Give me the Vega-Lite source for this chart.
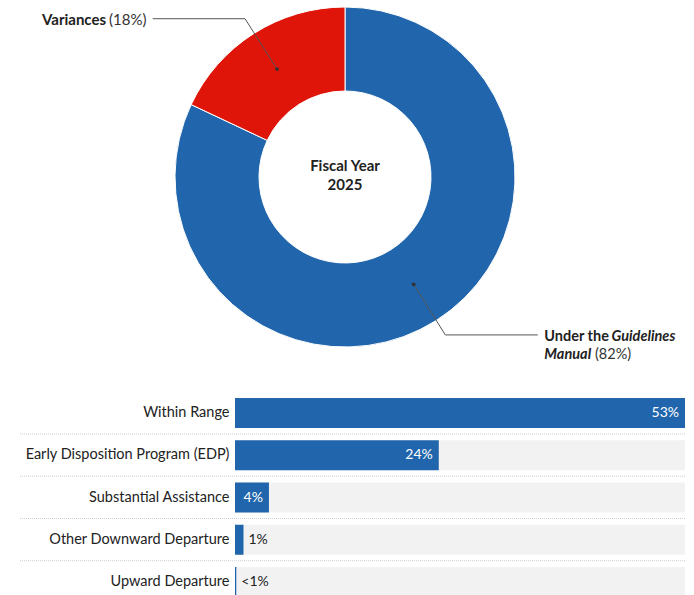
{
  "$schema": "https://vega.github.io/schema/vega-lite/v6.json",
  "background": "white",
  "padding": {"left": 19, "top": 0, "right": 10, "bottom": 0},
  "bounds": "flush",
  "spacing": 44,
  "config": {"view": {"stroke": null}, "font": "Lato"},
  "vconcat": [
    {
      "width": 450,
      "height": 354,
      "layer": [
        {
          "data": {"values": [
            {"segment": "Under the Guidelines Manual", "share": 82, "cx": 0, "cy": 0},
            {"segment": "Variances", "share": 18, "cx": 0, "cy": 0}
          ]},
          "mark": {"type": "arc", "innerRadius": 86, "outerRadius": 170, "stroke": "white", "strokeWidth": 1},
          "encoding": {
            "theta": {"field": "share", "type": "quantitative"},
            "color": {"field": "segment", "type": "nominal", "scale": {"domain": ["Under the Guidelines Manual", "Variances"], "range": ["#2166AC", "#E0150A"]}, "legend": null},
            "x": {"field": "cx", "type": "quantitative", "scale": {"domain": [-0.6471, 2.0], "nice": false, "zero": false}, "axis": null},
            "y": {"field": "cy", "type": "quantitative", "scale": {"domain": [-1.0412, 1.0412], "nice": false, "zero": false}, "axis": null}
          }
        },
        {
          "data": {"values": [
            {"callout": "Variances", "step": 1, "x": -0.4, "y": 0.635},
            {"callout": "Variances", "step": 2, "x": -0.588, "y": 0.931},
            {"callout": "Variances", "step": 3, "x": -1.131, "y": 0.931},
            {"callout": "Under", "step": 1, "x": 0.404, "y": -0.631},
            {"callout": "Under", "step": 2, "x": 0.59, "y": -0.929},
            {"callout": "Under", "step": 3, "x": 1.134, "y": -0.929}
          ]},
          "mark": {"type": "line", "color": "#555555", "strokeWidth": 1},
          "encoding": {
            "x": {"field": "x", "type": "quantitative", "scale": {"domain": [-0.6471, 2.0], "nice": false, "zero": false}, "axis": null},
            "y": {"field": "y", "type": "quantitative", "scale": {"domain": [-1.0412, 1.0412], "nice": false, "zero": false}, "axis": null},
            "detail": {"field": "callout", "type": "nominal"},
            "order": {"field": "step", "type": "quantitative"}
          }
        },
        {
          "data": {"values": [
            {"callout": "Variances", "x": -0.4, "y": 0.635},
            {"callout": "Under", "x": 0.404, "y": -0.631}
          ]},
          "mark": {"type": "point", "filled": true, "size": 14, "color": "#333333", "opacity": 1},
          "encoding": {
            "x": {"field": "x", "type": "quantitative", "scale": {"domain": [-0.6471, 2.0], "nice": false, "zero": false}, "axis": null},
            "y": {"field": "y", "type": "quantitative", "scale": {"domain": [-1.0412, 1.0412], "nice": false, "zero": false}, "axis": null}
          }
        },
        {
          "data": {"values": [{"caption": "Fiscal Year\n2025", "x": 0, "y": 0}]},
          "mark": {"type": "text", "fontWeight": "bold", "fontSize": 15, "lineBreak": "\n", "lineHeight": 19, "align": "center", "baseline": "alphabetic", "dy": -6, "color": "#222222"},
          "encoding": {
            "x": {"field": "x", "type": "quantitative", "scale": {"domain": [-0.6471, 2.0], "nice": false, "zero": false}, "axis": null},
            "y": {"field": "y", "type": "quantitative", "scale": {"domain": [-1.0412, 1.0412], "nice": false, "zero": false}, "axis": null},
            "text": {"field": "caption", "type": "nominal"}
          }
        },
        {
          "data": {"values": [
            {"text": "Variances", "x": -1.7824, "y": 0.8912}
          ]},
          "mark": {"type": "text", "align": "left", "baseline": "alphabetic", "fontSize": 15, "fontWeight": "bold", "color": "#222222"},
          "encoding": {
            "x": {"field": "x", "type": "quantitative", "scale": {"domain": [-0.6471, 2.0], "nice": false, "zero": false}, "axis": null},
            "y": {"field": "y", "type": "quantitative", "scale": {"domain": [-1.0412, 1.0412], "nice": false, "zero": false}, "axis": null},
            "text": {"field": "text", "type": "nominal"}
          }
        },
        {
          "data": {"values": [
            {"text": "(18%)", "x": -1.1676, "y": 0.8912}
          ]},
          "mark": {"type": "text", "align": "right", "baseline": "alphabetic", "fontSize": 15, "color": "#333333"},
          "encoding": {
            "x": {"field": "x", "type": "quantitative", "scale": {"domain": [-0.6471, 2.0], "nice": false, "zero": false}, "axis": null},
            "y": {"field": "y", "type": "quantitative", "scale": {"domain": [-1.0412, 1.0412], "nice": false, "zero": false}, "axis": null},
            "text": {"field": "text", "type": "nominal"}
          }
        },
        {
          "data": {"values": [
            {"text": "Under the", "x": 1.1724, "y": -0.9629}
          ]},
          "mark": {"type": "text", "align": "left", "baseline": "alphabetic", "fontSize": 14.5, "fontWeight": "bold", "color": "#222222"},
          "encoding": {
            "x": {"field": "x", "type": "quantitative", "scale": {"domain": [-0.6471, 2.0], "nice": false, "zero": false}, "axis": null},
            "y": {"field": "y", "type": "quantitative", "scale": {"domain": [-1.0412, 1.0412], "nice": false, "zero": false}, "axis": null},
            "text": {"field": "text", "type": "nominal"}
          }
        },
        {
          "data": {"values": [
            {"text": "Guidelines", "x": 1.5676, "y": -0.9629},
            {"text": "Manual", "x": 1.1724, "y": -1.0688}
          ]},
          "mark": {"type": "text", "align": "left", "baseline": "alphabetic", "fontSize": 14.5, "fontWeight": "bold", "fontStyle": "italic", "color": "#222222"},
          "encoding": {
            "x": {"field": "x", "type": "quantitative", "scale": {"domain": [-0.6471, 2.0], "nice": false, "zero": false}, "axis": null},
            "y": {"field": "y", "type": "quantitative", "scale": {"domain": [-1.0412, 1.0412], "nice": false, "zero": false}, "axis": null},
            "text": {"field": "text", "type": "nominal"}
          }
        },
        {
          "data": {"values": [
            {"text": "(82%)", "x": 1.4706, "y": -1.0688}
          ]},
          "mark": {"type": "text", "align": "left", "baseline": "alphabetic", "fontSize": 14.5, "color": "#333333"},
          "encoding": {
            "x": {"field": "x", "type": "quantitative", "scale": {"domain": [-0.6471, 2.0], "nice": false, "zero": false}, "axis": null},
            "y": {"field": "y", "type": "quantitative", "scale": {"domain": [-1.0412, 1.0412], "nice": false, "zero": false}, "axis": null},
            "text": {"field": "text", "type": "nominal"}
          }
        }
      ]
    },
    {
      "width": 450,
      "height": 199,
      "data": {"values": [
        {"category": "Within Range", "pct": 53, "label": "53%"},
        {"category": "Early Disposition Program (EDP)", "pct": 24, "label": "24%"},
        {"category": "Substantial Assistance", "pct": 4, "label": "4%"},
        {"category": "Other Downward Departure", "pct": 1, "label": "1%"},
        {"category": "Upward Departure", "pct": 0.15, "label": "<1%"}
      ]},
      "layer": [
        {
          "transform": [{"filter": "datum.category !== 'Upward Departure'"}],
          "mark": {"type": "rule", "color": "#cccccc", "strokeWidth": 1, "strokeDash": [1, 1], "yOffset": 6},
          "encoding": {
            "y": {"field": "category", "type": "nominal", "sort": ["Within Range", "Early Disposition Program (EDP)", "Substantial Assistance", "Other Downward Departure", "Upward Departure"], "bandPosition": 1, "scale": {"paddingInner": 0.29, "paddingOuter": 0},
              "axis": {"title": null, "ticks": false, "domain": false, "labelPadding": 6, "labelFontSize": 14.5, "labelColor": "#222222", "labelFont": "Lato", "labelLimit": 300}},
            "x": {"datum": -25.32, "type": "quantitative", "scale": {"domain": [0, 53], "nice": false}, "axis": null},
            "x2": {"datum": 53}
          }
        },
        {
          "mark": {"type": "bar", "color": "#f2f2f2"},
          "encoding": {
            "y": {"field": "category", "type": "nominal", "sort": ["Within Range", "Early Disposition Program (EDP)", "Substantial Assistance", "Other Downward Departure", "Upward Departure"], "scale": {"paddingInner": 0.29, "paddingOuter": 0},
              "axis": {"title": null, "ticks": false, "domain": false, "labelPadding": 6, "labelFontSize": 14.5, "labelColor": "#222222", "labelFont": "Lato", "labelLimit": 300}},
            "x": {"datum": 0, "type": "quantitative", "scale": {"domain": [0, 53], "nice": false}, "axis": null},
            "x2": {"datum": 53}
          }
        },
        {
          "mark": {"type": "bar", "color": "#2166AC"},
          "encoding": {
            "y": {"field": "category", "type": "nominal", "sort": ["Within Range", "Early Disposition Program (EDP)", "Substantial Assistance", "Other Downward Departure", "Upward Departure"],
              "axis": {"title": null, "ticks": false, "domain": false, "labelPadding": 6, "labelFontSize": 14.5, "labelColor": "#222222", "labelFont": "Lato", "labelLimit": 300}},
            "x": {"field": "pct", "type": "quantitative", "scale": {"domain": [0, 53], "nice": false}, "axis": null}
          }
        },
        {
          "transform": [{"filter": "datum.pct >= 4"}],
          "mark": {"type": "text", "align": "right", "baseline": "middle", "dx": -6, "fontSize": 14, "color": "white"},
          "encoding": {
            "y": {"field": "category", "type": "nominal", "sort": ["Within Range", "Early Disposition Program (EDP)", "Substantial Assistance", "Other Downward Departure", "Upward Departure"],
              "axis": {"title": null, "ticks": false, "domain": false, "labelPadding": 6, "labelFontSize": 14.5, "labelColor": "#222222", "labelFont": "Lato", "labelLimit": 300}},
            "x": {"field": "pct", "type": "quantitative", "scale": {"domain": [0, 53], "nice": false}, "axis": null},
            "text": {"field": "label", "type": "nominal"}
          }
        },
        {
          "transform": [{"filter": "datum.pct < 4"}],
          "mark": {"type": "text", "align": "left", "baseline": "middle", "dx": 5, "fontSize": 14, "color": "#222222"},
          "encoding": {
            "y": {"field": "category", "type": "nominal", "sort": ["Within Range", "Early Disposition Program (EDP)", "Substantial Assistance", "Other Downward Departure", "Upward Departure"],
              "axis": {"title": null, "ticks": false, "domain": false, "labelPadding": 6, "labelFontSize": 14.5, "labelColor": "#222222", "labelFont": "Lato", "labelLimit": 300}},
            "x": {"field": "pct", "type": "quantitative", "scale": {"domain": [0, 53], "nice": false}, "axis": null},
            "text": {"field": "label", "type": "nominal"}
          }
        }
      ]
    }
  ]
}
